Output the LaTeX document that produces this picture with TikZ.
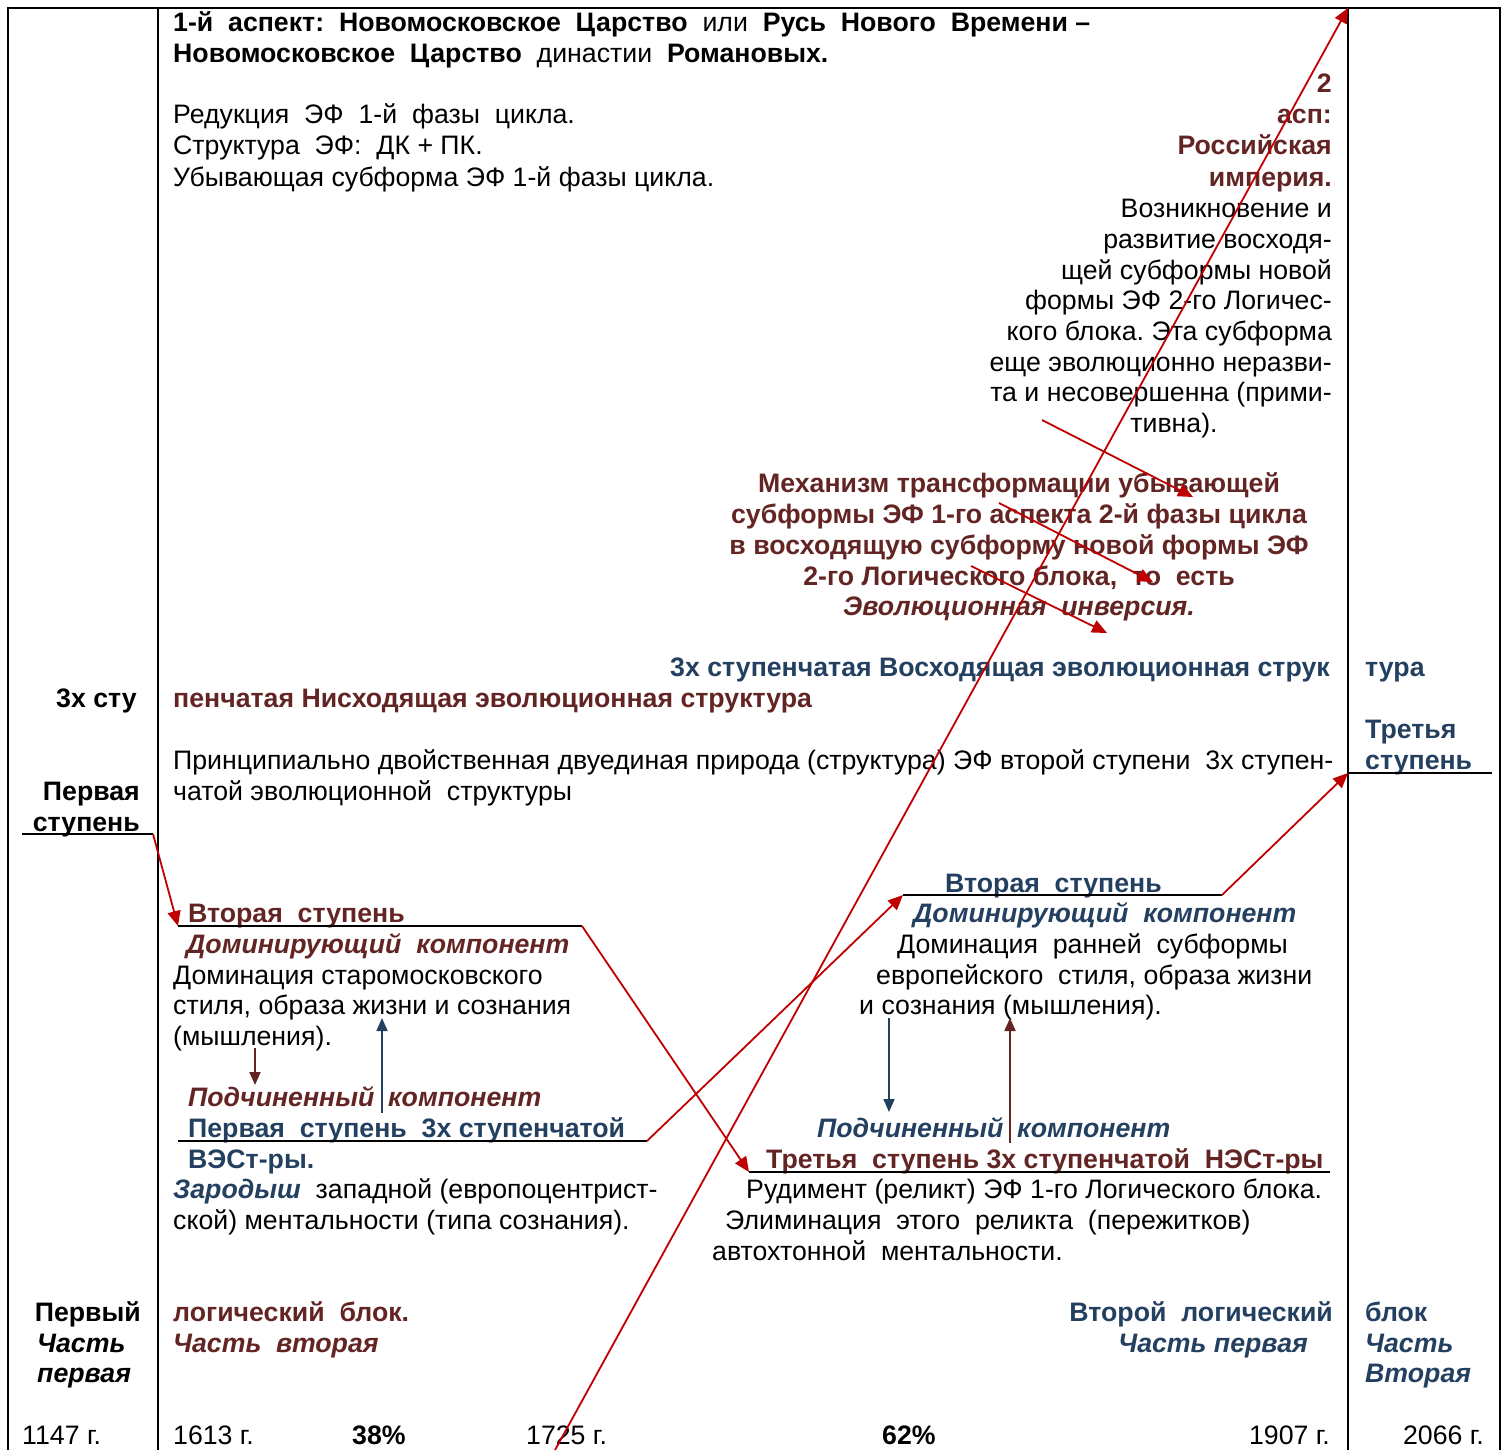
\documentclass[tikz,border=0pt]{standalone}
\usepackage{fontspec}
\setmainfont{Liberation Sans}
\usetikzlibrary{arrows.meta}
\definecolor{dkred}{HTML}{632523}
\definecolor{dkblue}{HTML}{244061}
\definecolor{arr}{HTML}{C00000}
\newcommand{\fs}{\fontsize{26.7}{31}\selectfont}
\frenchspacing

\begin{document}
\begin{tikzpicture}[x=1pt, y=-1pt,
  every node/.style={inner sep=0pt},
  lw/.style={anchor=base west}, le/.style={anchor=base east}, lc/.style={anchor=base},
  txt/.style={font=\fs},
  bk/.style={font=\fs\bfseries},
  bki/.style={font=\fs\bfseries\itshape},
  rd/.style={text=dkred, font=\fs\bfseries},
  rdi/.style={text=dkred, font=\fs\bfseries\itshape},
  bl/.style={text=dkblue, font=\fs\bfseries},
  bli/.style={text=dkblue, font=\fs\bfseries\itshape},
  uline/.style={line width=1.6pt},
  redarr/.style={draw=arr, line width=1.8pt, -{Triangle[length=15pt,width=13pt]}},
  rdarr/.style={draw=dkred, line width=1.8pt, -{Triangle[length=13pt,width=11pt]}},
  blarr/.style={draw=dkblue, line width=1.8pt, -{Triangle[length=13pt,width=11pt]}}]
  \useasboundingbox (0,0) rectangle (1503,1450);
  % frame
  \coordinate (tl) at (8,8); \coordinate (tr) at (1500,8);
  \coordinate (bl) at (8,1450); \coordinate (br) at (1500,1450);
  \coordinate (c1t) at (158,8); \coordinate (c1b) at (158,1450);
  \coordinate (c2t) at (1348,8); \coordinate (c2b) at (1348,1450);
  \draw[line width=2pt] (bl) -- (tl) -- (tr) -- (br);
  \draw[line width=2pt] (c1t) -- (c1b);
  \draw[line width=2pt] (c2t) -- (c2b);

  % header
  \node[bk, lw] (h1) at (173,32) {1-й~ аспект:~ Новомосковское~ Царство~ \textmd{или}~ Русь~ Нового~ Времени –};
  \node[bk, lw] (h2) at (173,63) {Новомосковское~ Царство~ \textmd{династии}~ Романовых.};
  % first aspect
  \foreach \n/\y/\t in {1/124/{Редукция~ ЭФ~ 1-й~ фазы~ цикла.}, 2/155/{Структура~ ЭФ:~ ДК + ПК.},
    3/186/{Убывающая субформа ЭФ 1-й фазы цикла.}}
    \node[txt, lw] (a\n) at (173,\y) {\t};
  % second aspect
  \foreach \n/\y/\t in {1/93/2, 2/124/асп:, 3/155/Российская, 4/186/империя.}
    \node[rd, le] (s\n) at (1332,\y) {\t};
  \foreach \n/\y/\t in {1/217/{Возникновение и}, 2/248/{развитие восходя-}, 3/279/{щей субформы новой},
    4/309/{формы ЭФ 2-го Логичес-}, 5/340/{кого блока. Эта субформа}, 6/371/{еще эволюционно неразви-},
    7/401/{та и несовершенна (прими-}}
    \node[txt, le] (d\n) at (1332,\y) {\t};
  \node[txt, lc] (d8) at (1174,432) {тивна).};
  % mechanism
  \foreach \n/\y/\t in {1/492/{Механизм трансформации убывающей}, 2/523/{субформы ЭФ 1-го аспекта 2-й фазы цикла},
    3/554/{в восходящую субформу новой формы ЭФ}, 4/585/{2-го Логического блока,~ то~ есть},
    5/615/{\itshape Эволюционная~ инверсия.}}
    \node[rd, lc] (m\n) at (1019,\y) {\t};

  % structure titles
  \node[bl, le] (ve1) at (1330,676) {3х ступенчатая Восходящая эволюционная струк};
  \node[bl, lw] (ve2) at (1365,676) {тура};
  \node[bk, le] (ne1) at (137,707) {3х сту};
  \node[rd, lw] (ne2) at (173,707) {пенчатая Нисходящая эволюционная структура};
  \node[txt, lw] (pr1) at (173,769) {Принципиально двойственная двуединая природа (структура) ЭФ второй ступени~ 3х ступен-};
  \node[txt, lw] (pr2) at (173,800) {чатой эволюционной~ структуры};
  \node[bk, le] (st1a) at (140,800) {Первая};
  \node[bk, le] (st1b) at (140,831) {ступень};
  \node[bl, lw] (st3a) at (1365,738) {Третья};
  \node[bl, lw] (st3b) at (1365,769) {ступень};

  % left block
  \node[rd, lw] (lv) at (188,922) {Вторая~ ступень};
  \node[rdi, lw] (ldk) at (186,953) {Доминирующий~ компонент};
  \foreach \n/\y/\t in {1/984/{Доминация старомосковского}, 2/1014/{стиля, образа жизни и сознания},
    3/1045/{(мышления).}}
    \node[txt, lw] (ld\n) at (173,\y) {\t};
  \node[rdi, lw] (lp1) at (188,1106) {Подчиненный};
  \node[rdi, lw] (lp2) at (388,1106) {компонент};
  \node[bl, lw] (lf1) at (188,1137) {Первая~ ступень~ 3х ступенчатой};
  \node[bl, lw] (lf2) at (188,1168) {ВЭСт-ры.};
  \node[txt, lw] (lz1) at (173,1198) {\textcolor{dkblue}{\bfseries\itshape Зародыш}~ западной (европоцентрист-};
  \node[txt, lw] (lz2) at (173,1229) {ской) ментальности (типа сознания).};

  % right block
  \node[bl, lw] (rv) at (945,892) {Вторая~ ступень};
  \node[bli, lw] (rdk) at (913,922) {Доминирующий~ компонент};
  \node[txt, lw] (rd1) at (897,953) {Доминация~ ранней~ субформы};
  \node[txt, lw] (rd2) at (876,984) {европейского~ стиля, образа жизни};
  \node[txt, lw] (rd3) at (859,1014) {и сознания (мышления).};
  \node[bli, lw] (rp1) at (817,1137) {Подчиненный};
  \node[bli, lw] (rp2) at (1017,1137) {компонент};
  \node[rd, lw] (rt) at (766,1168) {Третья~ ступень 3х ступенчатой~ НЭСт-ры};
  \node[txt, lw] (rr1) at (746,1198) {Рудимент (реликт) ЭФ 1-го Логического блока.};
  \node[txt, lw] (rr2) at (725,1229) {Элиминация~ этого~ реликта~ (пережитков)};
  \node[txt, lw] (rr3) at (712,1260) {автохтонной~ ментальности.};

  % logical blocks
  \node[bk, le] (b1a) at (141,1321) {Первый};
  \node[bki, lw] (b1b) at (37,1352) {Часть};
  \node[bki, lw] (b1c) at (37,1382) {первая};
  \node[rd, lw] (b2a) at (173,1321) {логический~ блок.};
  \node[rdi, lw] (b2b) at (173,1352) {Часть~ вторая};
  \node[bl, le] (b3a) at (1333,1321) {Второй~ логический};
  \node[bli, le] (b3b) at (1308,1352) {Часть первая};
  \node[bl, lw] (b4a) at (1365,1321) {блок};
  \node[bli, lw] (b4b) at (1365,1352) {Часть};
  \node[bli, lw] (b4c) at (1365,1382) {Вторая};
  % years
  \node[txt, lw] (y1) at (22,1444) {1147 г.};
  \node[txt, lw] (y2) at (173,1444) {1613 г.};
  \node[bk, lw] (q1) at (352,1444) {38\%};
  \node[txt, lw] (y3) at (526,1444) {1725 г.};
  \node[bk, lw] (q2) at (882,1444) {62\%};
  \node[txt, le] (y4) at (1330,1444) {1907 г.};
  \node[txt, le] (y5) at (1484,1444) {2066 г.};

  % step lines
  \coordinate (p1a) at (22,834); \coordinate (p1b) at (153,834);
  \coordinate (v2a) at (178,926); \coordinate (v2b) at (582,926);
  \coordinate (f1a) at (178,1141); \coordinate (f1b) at (647,1141);
  \coordinate (t3a) at (749,1172); \coordinate (t3b) at (1330,1172);
  \coordinate (w2a) at (903,895); \coordinate (w2b) at (1222,895);
  \coordinate (w3a) at (1348,773); \coordinate (w3b) at (1492,773);
  \foreach \a/\b in {p1a/p1b, v2a/v2b, f1a/f1b, t3a/t3b, w2a/w2b, w3a/w3b} \draw[uline] (\a) -- (\b);
  % red transitions
  \foreach \a/\b in {p1b/v2a, v2b/t3a, f1b/w2a, w2b/w3a} \draw[redarr] (\a) -- (\b);
  \coordinate (lo) at (555,1450); \coordinate (hi) at (1348,8);
  \draw[redarr] (lo) -- (hi);
  % inversion arrows
  \coordinate (i1a) at (1042,420); \coordinate (i1b) at (1193,497);
  \coordinate (i2a) at (999,503); \coordinate (i2b) at (1153,582);
  \coordinate (i3a) at (971,566); \coordinate (i3b) at (1107,633);
  \foreach \a/\b in {i1a/i1b, i2a/i2b, i3a/i3b} \draw[redarr] (\a) -- (\b);
  % component arrows
  \coordinate (k1a) at (255,1048); \coordinate (k1b) at (255,1085);
  \coordinate (k2a) at (382,1113); \coordinate (k2b) at (382,1018);
  \coordinate (k3a) at (889,1018); \coordinate (k3b) at (889,1112);
  \coordinate (k4a) at (1010,1143); \coordinate (k4b) at (1010,1018);
  \draw[rdarr] (k1a) -- (k1b);
  \draw[blarr] (k2a) -- (k2b);
  \draw[blarr] (k3a) -- (k3b);
  \draw[rdarr] (k4a) -- (k4b);
\end{tikzpicture}
\end{document}
